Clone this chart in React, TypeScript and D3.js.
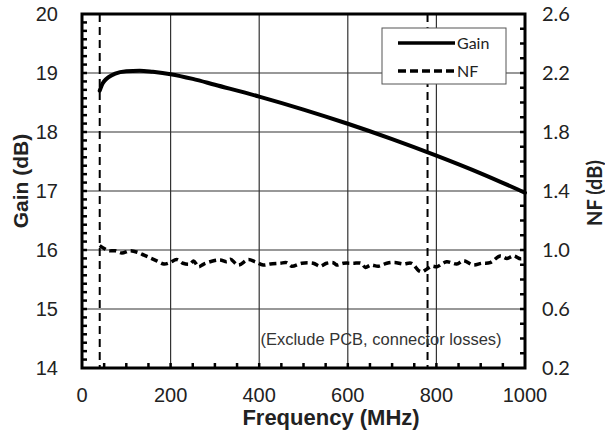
import React from 'react';
import * as d3 from 'd3';

// gain trace (MHz, dB)
const gainFreq = [40, 45, 50, 60, 75, 100, 130, 160, 200, 250, 300, 400, 500, 600, 700, 800, 900, 1000];
const gainDb = [18.7, 18.8, 18.86, 18.93, 18.99, 19.03, 19.04, 19.02, 18.98, 18.9, 18.8, 18.6, 18.38, 18.14, 17.88, 17.6, 17.3, 16.97];

// noise figure trace (MHz, dB)
const nfFreq = [40, 50, 60, 75, 90, 108, 125, 140, 155, 170, 185, 198, 214, 228, 244, 252, 263, 275, 295, 312, 327, 335, 353, 375, 391, 409, 425, 447, 462, 473, 496, 522, 537, 552, 567, 575, 590, 612, 630, 640, 652, 669, 688, 706, 725, 744, 760, 768, 778, 790, 801, 823, 846, 861, 883, 902, 921, 944, 959, 974, 990, 1000];
const nfDb = [1.03, 1.01, 0.995, 0.995, 0.98, 0.995, 0.985, 0.965, 0.945, 0.925, 0.905, 0.914, 0.935, 0.91, 0.905, 0.925, 0.887, 0.905, 0.925, 0.932, 0.92, 0.937, 0.898, 0.935, 0.92, 0.898, 0.905, 0.91, 0.914, 0.89, 0.91, 0.91, 0.89, 0.91, 0.914, 0.898, 0.91, 0.91, 0.91, 0.882, 0.898, 0.89, 0.91, 0.916, 0.905, 0.91, 0.86, 0.853, 0.87, 0.89, 0.887, 0.92, 0.905, 0.927, 0.898, 0.91, 0.914, 0.96, 0.943, 0.96, 0.94, 0.945];

const xTicks = [0, 200, 400, 600, 800, 1000];
const gainTicks = [14, 15, 16, 17, 18, 19, 20];
const nfTicks = [0.2, 0.6, 1.0, 1.4, 1.8, 2.2, 2.6];
const bandEdges = [40, 780];

const W = 605;
const H = 439;
const m = { left: 82, right: 525, top: 14, bottom: 368 };

const arial = "'Liberation Sans', Arial, sans-serif";
const calib = "Lato, 'Open Sans', sans-serif";

export default function App() {
  const x = d3.scaleLinear().domain([0, 1000]).range([m.left, m.right]);
  const yG = d3.scaleLinear().domain([14, 20]).range([m.bottom, m.top]);
  const yN = d3.scaleLinear().domain([0.2, 2.6]).range([m.bottom, m.top]);

  const gainPath = d3.line<number>()
    .x((_, i) => x(gainFreq[i]))
    .y(d => yG(d))
    .curve(d3.curveMonotoneX)(gainDb) || '';
  const nfPath = d3.line<number>()
    .x((_, i) => x(nfFreq[i]))
    .y(d => yN(d))
    .curve(d3.curveCatmullRom)(nfDb) || '';

  // minor ticks: 50 MHz on x, 1/7 dB on gain side, 0.1 dB on NF side
  const xMinor = d3.range(50, 1000, 50);
  const gMinor = d3.range(1, 42).map(i => 14 + i / 7);
  const nMinor = d3.range(1, 24).map(i => 0.2 + i * 0.1);

  return (
    <svg width={W} height={H} style={{ position: 'absolute', left: 0, top: 0, background: '#fff' }}>
      {/* grid */}
      {xTicks.slice(1, -1).map(t => (
        <line key={'gx' + t} x1={x(t)} x2={x(t)} y1={m.top} y2={m.bottom} stroke="#333" strokeWidth={1.2} />
      ))}
      {gainTicks.slice(1, -1).map(t => (
        <line key={'gy' + t} x1={m.left} x2={m.right} y1={yG(t)} y2={yG(t)} stroke="#333" strokeWidth={1.2} />
      ))}

      {/* minor ticks */}
      {xMinor.map(t => (
        <line key={'xm' + t} x1={x(t)} x2={x(t)} y1={m.bottom} y2={m.bottom - 5} stroke="#000" strokeWidth={2.5} />
      ))}
      {gMinor.map((t, i) => (
        <line key={'gm' + i} x1={m.left} x2={m.left + 5} y1={yG(t)} y2={yG(t)} stroke="#000" strokeWidth={2.5} />
      ))}
      {nMinor.map((t, i) => (
        <line key={'nm' + i} x1={m.right} x2={m.right - 5} y1={yN(t)} y2={yN(t)} stroke="#000" strokeWidth={2.5} />
      ))}

      {/* band edge markers */}
      {bandEdges.map(f => (
        <line key={'be' + f} x1={x(f)} x2={x(f)} y1={m.top} y2={m.bottom} stroke="#000" strokeWidth={2} strokeDasharray="8 5" />
      ))}

      {/* annotation */}
      <text x={381} y={345} textAnchor="middle" fontFamily={arial} fontSize={16.5} fill="#333">
        (Exclude PCB, connector losses)
      </text>

      {/* traces */}
      <path d={gainPath} fill="none" stroke="#000" strokeWidth={4} strokeLinecap="round" />
      <path d={nfPath} fill="none" stroke="#000" strokeWidth={3.5} strokeDasharray="7 4" />

      {/* frame */}
      <rect x={m.left} y={m.top} width={m.right - m.left} height={m.bottom - m.top} fill="none" stroke="#000" strokeWidth={3} />

      {/* legend */}
      <rect x={382} y={28} width={124} height={56} fill="#fff" stroke="#555" strokeWidth={1} />
      <line x1={398} x2={455} y1={43} y2={43} stroke="#000" strokeWidth={3.5} />
      <text x={457} y={48.5} fontFamily={calib} fontSize={16} fill="#222">Gain</text>
      <line x1={398} x2={455} y1={71} y2={71} stroke="#000" strokeWidth={3.5} strokeDasharray="8 4" />
      <text x={457} y={76.5} fontFamily={calib} fontSize={16} fill="#222">NF</text>

      {/* axis labels */}
      {xTicks.map(t => (
        <text key={'xl' + t} x={x(t)} y={401.5} textAnchor="middle" fontFamily={arial} fontSize={20} fill="#222">{t}</text>
      ))}
      {gainTicks.map(t => (
        <text key={'gl' + t} x={58} y={yG(t) + 7} textAnchor="end" fontFamily={arial} fontSize={20} fill="#222">{t}</text>
      ))}
      {nfTicks.map(t => (
        <text key={'nl' + t} x={542} y={yN(t) + 7} fontFamily={calib} fontSize={20} fill="#222">{t.toFixed(1)}</text>
      ))}

      <text x={331} y={425} textAnchor="middle" fontFamily={arial} fontSize={22} fontWeight="bold" fill="#222">
        Frequency (MHz)
      </text>
      <text transform={`translate(28,181) rotate(-90)`} textAnchor="middle" fontFamily={arial} fontSize={21} fontWeight="bold" fill="#222">
        Gain (dB)
      </text>
      <text transform={`translate(602,193) rotate(-90)`} textAnchor="middle" fontFamily={calib} fontSize={20} fontWeight="bold" fill="#222">
        NF (dB)
      </text>
    </svg>
  );
}
